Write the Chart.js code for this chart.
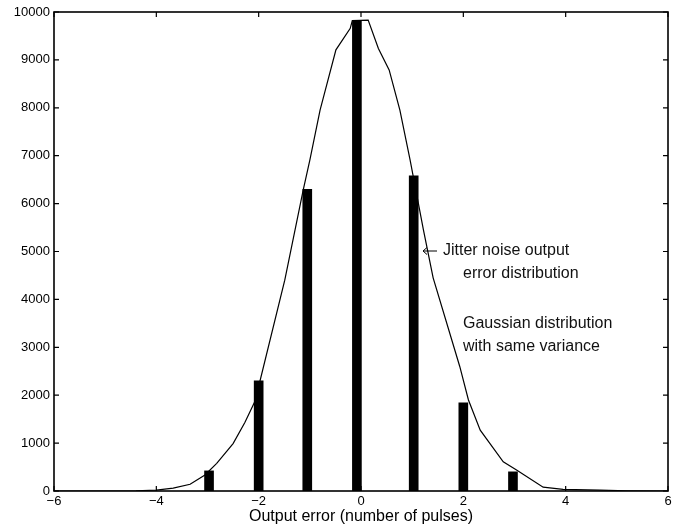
<!DOCTYPE html>
<html>
<head>
<meta charset="utf-8">
<script src="https://cdn.jsdelivr.net/npm/chart.js@4/dist/chart.umd.min.js"></script>
<style>
  html, body { margin: 0; padding: 0; background: #fff; }
  #wrap { width: 687px; height: 531px; }
</style>
</head>
<body>
<div id="wrap"><canvas id="c" width="687" height="531"></canvas></div>
<script>
// Histogram of jitter-noise output error
const barX = [-2.97, -2.0, -1.05, -0.08, 1.03, 2.0, 2.97];
const barCounts = [420, 2300, 6300, 9820, 6580, 1840, 400];

// Gaussian distribution with same variance (polyline vertices)
const gaussX = [-6, -5, -4.4, -4, -3.67, -3.34, -3.05, -2.82, -2.5, -2.27, -2.07, -1.49, -1.13, -1.0, -0.8, -0.49, -0.21, -0.17, 0.14, 0.34, 0.55, 0.76, 0.96, 1.22, 1.41, 1.93, 2.1, 2.33, 2.78, 3.04, 3.56, 3.95, 4.67, 5.2, 6];
const gaussY = [0, 0, 5, 20, 60, 140, 334, 578, 990, 1430, 1880, 4400, 6280, 6910, 7950, 9210, 9660, 9820, 9830, 9240, 8790, 7950, 6910, 5450, 4450, 2600, 1900, 1270, 610, 440, 80, 35, 20, 5, 0];

// Axis settings
const xMin = -6, xMax = 6, xStep = 2;
const yMin = 0, yMax = 10000, yStep = 1000;
const xTitle = 'Output error (number of pulses)';

// Text annotations
const annotations = [
  { text: 'Jitter noise output', x: 443, y: 251 },
  { text: 'error distribution', x: 463, y: 274 },
  { text: 'Gaussian distribution', x: 463, y: 324 },
  { text: 'with same variance', x: 463, y: 347 }
];

const fmt = v => (v < 0 ? '\u2212' + Math.abs(v) : String(v));

const framePlugin = {
  id: 'frame',
  afterDraw(chart) {
    const ctx = chart.ctx;
    const a = chart.chartArea;
    const xs = chart.scales.x, ys = chart.scales.y;
    ctx.save();
    ctx.strokeStyle = '#000';
    ctx.lineWidth = 1.6;
    ctx.strokeRect(a.left, a.top, a.right - a.left, a.bottom - a.top);
    ctx.lineWidth = 1.2;
    const tl = 5;
    ctx.beginPath();
    xs.ticks.forEach(t => {
      const px = xs.getPixelForValue(t.value);
      ctx.moveTo(px, a.bottom); ctx.lineTo(px, a.bottom - tl);
      ctx.moveTo(px, a.top); ctx.lineTo(px, a.top + tl);
    });
    ys.ticks.forEach(t => {
      const py = ys.getPixelForValue(t.value);
      ctx.moveTo(a.left, py); ctx.lineTo(a.left + tl, py);
      ctx.moveTo(a.right, py); ctx.lineTo(a.right - tl, py);
    });
    ctx.stroke();

    // annotations
    ctx.fillStyle = '#111';
    ctx.font = '16px "Liberation Sans", Arial, sans-serif';
    ctx.textBaseline = 'middle';
    ctx.textAlign = 'left';
    annotations.forEach(an => ctx.fillText(an.text, an.x, an.y));
    // small arrow pointing at the bar
    ctx.lineWidth = 1;
    ctx.beginPath();
    ctx.moveTo(423, 251); ctx.lineTo(437, 251);
    ctx.moveTo(423, 251); ctx.lineTo(427, 247.5);
    ctx.moveTo(423, 251); ctx.lineTo(427, 254.5);
    ctx.stroke();
    ctx.restore();
  }
};

new Chart(document.getElementById('c'), {
  type: 'bar',
  data: {
    datasets: [
      {
        type: 'bar',
        label: 'Jitter noise output error distribution',
        data: barX.map((x, i) => ({ x: x, y: barCounts[i] })),
        backgroundColor: '#000',
        borderWidth: 0,
        barThickness: 9,
        order: 0
      },
      {
        type: 'line',
        label: 'Gaussian distribution with same variance',
        data: gaussX.map((x, i) => ({ x: x, y: gaussY[i] })),
        borderColor: '#000',
        borderWidth: 1.2,
        pointRadius: 0,
        tension: 0,
        fill: false,
        order: 1
      }
    ]
  },
  options: {
    responsive: false,
    animation: false,
    events: [],
    layout: { padding: { top: 12, right: 19, bottom: 0, left: 0 } },
    plugins: { legend: { display: false }, tooltip: { enabled: false } },
    scales: {
      x: {
        type: 'linear',
        min: xMin, max: xMax,
        offset: false,
        grid: { display: false, drawTicks: false },
        border: { display: false },
        ticks: {
          stepSize: xStep,
          padding: 3,
          color: '#000',
          font: { family: '"Liberation Sans", Arial, sans-serif', size: 13 },
          maxRotation: 0,
          callback: v => fmt(v)
        },
        title: {
          display: true,
          text: xTitle,
          color: '#000',
          font: { family: '"Liberation Sans", Arial, sans-serif', size: 16 },
          padding: { top: 0, bottom: 5 }
        },
        afterFit(scale) { scale.height = 40; }
      },
      y: {
        min: yMin, max: yMax,
        grid: { display: false, drawTicks: false },
        border: { display: false },
        ticks: {
          stepSize: yStep,
          padding: 4,
          color: '#000',
          font: { family: '"Liberation Sans", Arial, sans-serif', size: 13 },
          callback: v => fmt(v)
        },
        afterFit(scale) { scale.width = 54; }
      }
    }
  },
  plugins: [framePlugin]
});
</script>
</body>
</html>
